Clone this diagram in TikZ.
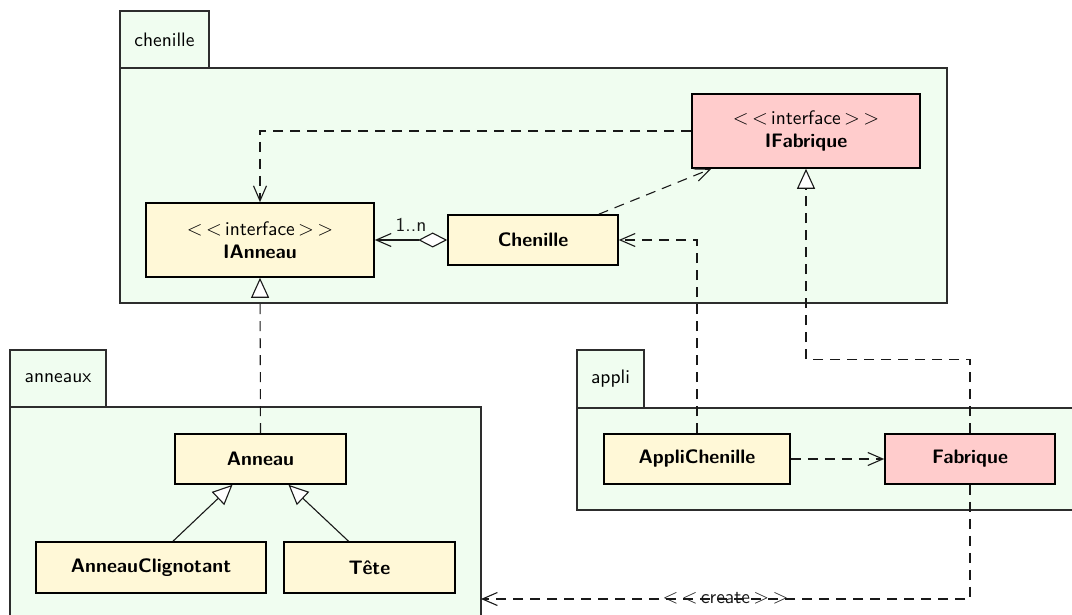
\documentclass[tikz,border=0pt]{standalone}
\usepackage{fontspec}
\newfontfamily\umlfont{lmsans10-regular}[Extension=.otf, BoldFont=lmsans10-bold]
\usetikzlibrary{arrows.meta}

\definecolor{pkgfill}{RGB}{240,253,240}
\definecolor{classfill}{RGB}{255,248,215}
\definecolor{factfill}{RGB}{255,204,204}
\definecolor{pkgline}{RGB}{45,45,45}

\tikzset{
  pkgpart/.style={draw=pkgline, line width=1.1pt, fill=pkgfill},
  pkglabel/.style={inner sep=0pt},
  umlclass/.style={draw=black, line width=1.6pt, fill=classfill, align=center,
    inner sep=0pt, minimum height=50pt},
  factory/.style={umlclass, fill=factfill},
  conn/.style={line width=1.1pt, black!90},
  dep/.style={conn, dash pattern=on 10pt off 7pt, -{Straight Barb[length=15pt, width=13pt, line width=1.1pt]}},
  realize/.style={conn, dash pattern=on 10pt off 7pt,
    -{Triangle[open, length=20pt, width=18pt, line width=1.1pt, fill=white]}},
  general/.style={conn,
    -{Triangle[open, length=20pt, width=18pt, line width=1.1pt, fill=white]}},
  aggreg/.style={conn,
    {Diamond[open, length=29pt, width=15pt, line width=1.1pt, fill=white]}-{Straight Barb[length=15pt, width=13pt, line width=1.1pt]}},
}

\newcommand{\stereo}[1]{$<\,<$\,#1\,$>\,>$}

\begin{document}
\begin{tikzpicture}[x=1pt, y=-1pt, font=\umlfont\fontsize{19.5}{23}\selectfont]
  \clip (0,0) rectangle (1072,615);
  \fill[white] (0,0) rectangle (1072,615);

  % package chenille
  \path[pkgpart] (120,11) rectangle (209,68);
  \path[pkgpart] (120,68) rectangle (947,303);
  \node[pkglabel] (lblchenille) at (164.5,40) {chenille};

  % package anneaux
  \path[pkgpart] (10,350) rectangle (106,407);
  \path[pkgpart] (10,407) rectangle (481,640);
  \node[pkglabel] (lblanneaux) at (58,378.5) {anneaux};

  % package appli
  \path[pkgpart] (577,350) rectangle (644,408);
  \path[pkgpart] (577,408) rectangle (1090,510);
  \node[pkglabel] (lblappli) at (610.5,379) {appli};

  % classes
  \node[umlclass, minimum width=228pt, minimum height=74pt] (ianneau) at (260,240)
    {\stereo{interface}\\\textbf{IAnneau}};
  \node[umlclass, minimum width=170pt] (chen) at (533,240) {\textbf{Chenille}};
  \node[factory, minimum width=228pt, minimum height=74pt] (ifab) at (806,131)
    {\stereo{interface}\\\textbf{IFabrique}};

  \node[umlclass, minimum width=171pt] (anneau) at (260.5,459) {\textbf{Anneau}};
  \node[umlclass, minimum width=230pt, minimum height=51pt] (clig) at (151,567.5)
    {\textbf{AnneauClignotant}};
  \node[umlclass, minimum width=171pt, minimum height=51pt] (tete) at (369.5,567.5)
    {\textbf{Tête}};

  \node[umlclass, minimum width=186pt] (appli) at (697,459) {\textbf{AppliChenille}};
  \node[factory, minimum width=170pt] (fab) at (970,459) {\textbf{Fabrique}};

  \coordinate (createend) at (481,599);

  % relations
  \draw[dep] (ifab.west) -| (ianneau.north);
  \draw[dep] ([xshift=-20pt]chen.north east) -- ([xshift=20pt]ifab.south west);
  \draw[aggreg] (chen.west) -- node[above, yshift=5pt, inner sep=3pt] (mult) {1..n} (ianneau.east);
  \draw[dep] (appli.north) |- (chen.east);
  \draw[realize] (fab.north) -- ++(0,-74) -| (ifab.south);
  \draw[realize] (anneau.north) -- (ianneau.south);
  \draw[general] ([xshift=22pt]clig.north) -- ([xshift=-28pt]anneau.south);
  \draw[general] ([xshift=-21pt]tete.north) -- ([xshift=28pt]anneau.south);
  \draw[dep] (appli.east) -- (fab.west);
  \draw[dep] (fab.south) |- node[pos=0.75, inner sep=0pt, yshift=1pt] (create) {\stereo{create}} (createend);
\end{tikzpicture}
\end{document}
